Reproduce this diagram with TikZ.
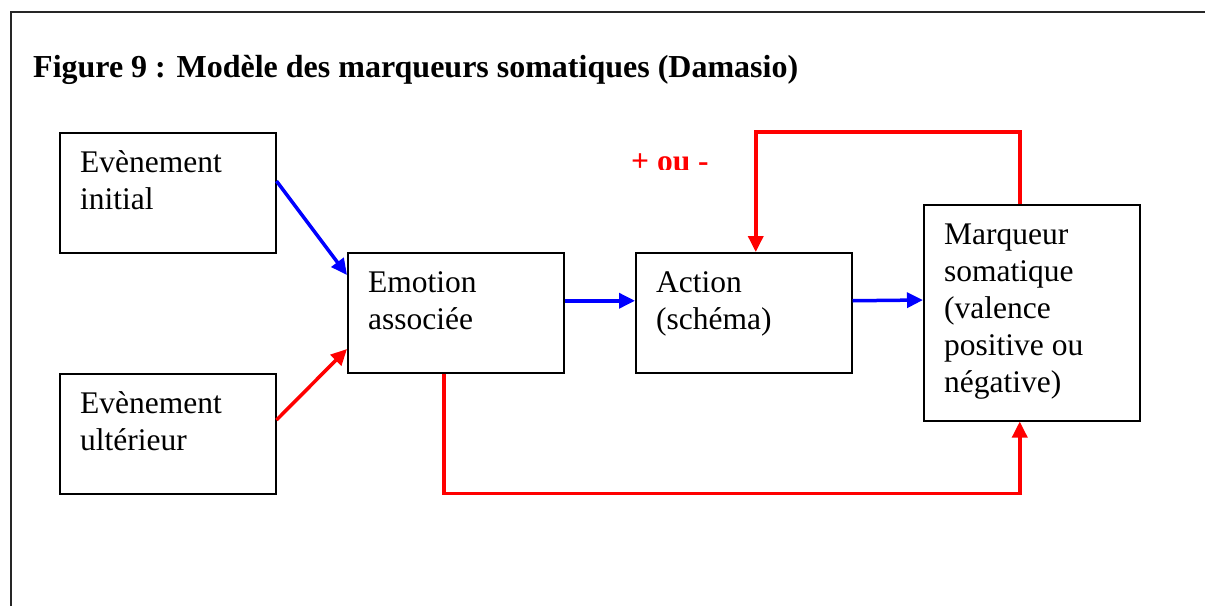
\documentclass[tikz,border=0pt]{standalone}
\usepackage{fontspec}
\setmainfont{Liberation Serif}
\usetikzlibrary{arrows.meta}
\definecolor{pblue}{RGB}{0,0,255}
\definecolor{pred}{RGB}{255,0,0}
\tikzset{
  x=1pt, y=1pt,
  box/.style={draw=black, line width=1.5pt, rectangle, inner sep=0pt, minimum width=216pt, anchor=north west},
  txt/.style={anchor=north west, inner sep=0pt, align=left, font=\fontsize{31.5}{37}\selectfont},
  conn/.style={line width=3.5pt, -{Triangle[length=16pt,width=15pt]}},
  blueconn/.style={conn, draw=pblue},
  redconn/.style={conn, draw=pred},
}
\newcommand{\tstrut}{\rule{0pt}{25pt}}
\begin{document}
\begin{tikzpicture}
\useasboundingbox (0,0) rectangle (1205,-606);
% outer frame
\draw[line width=2pt, black!85] (11,-606) -- (11,-12) -- (1205,-12);
% title
\node[anchor=base west, inner sep=0pt, font=\fontsize{32}{38}\selectfont\bfseries] (title) at (33,-77) {Figure 9 : Modèle des marqueurs somatiques (Damasio)};
% boxes
\node[box, minimum height=120pt] (ev1) at (59,-132) {};
\node[box, minimum height=120pt] (ev2) at (59,-373) {};
\node[box, minimum height=120pt] (emo) at (347,-252) {};
\node[box, minimum height=120pt] (act) at (635,-252) {};
\node[box, minimum height=216pt] (mar) at (923,-204) {};
% texts
\node[txt] (ev1t) at ([xshift=21pt,yshift=-15pt]ev1.north west) {\tstrut Evènement\\initial};
\node[txt] (ev2t) at ([xshift=21pt,yshift=-15pt]ev2.north west) {\tstrut Evènement\\ultérieur};
\node[txt] (emot) at ([xshift=21pt,yshift=-15pt]emo.north west) {\tstrut Emotion\\associée};
\node[txt] (actt) at ([xshift=21pt,yshift=-15pt]act.north west) {\tstrut Action\\(schéma)};
\node[txt] (mart) at ([xshift=21pt,yshift=-15pt]mar.north west) {\tstrut Marqueur\\somatique\\(valence\\positive ou\\négative)};
% label (clipped like the original text frame)
\begin{scope}
\clip (600,-130) rectangle (740,-169.5);
\node[anchor=base west, inner sep=0pt, text=pred, font=\fontsize{31.5}{37}\selectfont\bfseries] (pm) at (631,-171) {+ ou -};
\end{scope}
% connectors
\draw[blueconn] ([yshift=-49pt]ev1.north east) -- ([yshift=-23pt]emo.north west);
\draw[redconn] ([yshift=-47pt]ev2.north east) -- ([yshift=-97pt]emo.north west);
\draw[blueconn] ([yshift=12pt]emo.east) -- ([yshift=12pt]act.west);
\draw[blueconn] ([yshift=12pt]act.east) -- ([yshift=-96pt]mar.north west);
\draw[redconn] ([xshift=-12pt]mar.north) -- ++(0,72) -| ([xshift=12pt]act.north);
\draw[redconn] ([xshift=-12pt]emo.south) -- ++(0,-120) -| ([xshift=-12pt]mar.south);
\end{tikzpicture}
\end{document}
